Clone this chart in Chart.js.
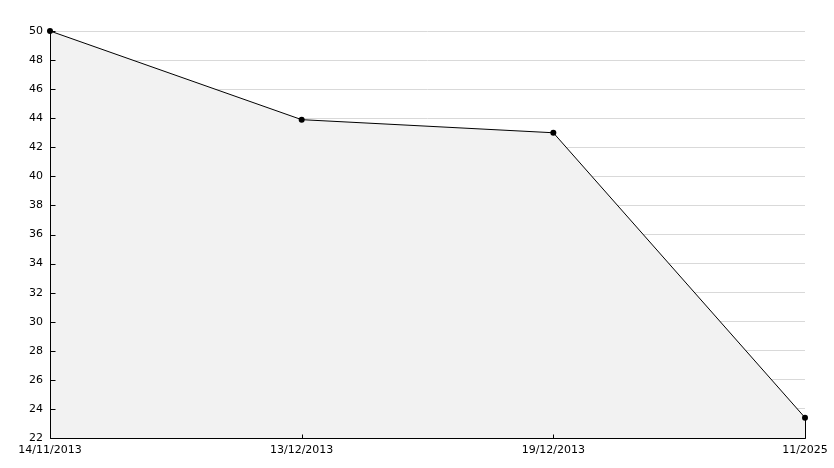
<!DOCTYPE html>
<html>
<head>
<meta charset="utf-8">
<script src="https://cdn.jsdelivr.net/npm/chart.js@4"></script>
<style>
  html, body { margin: 0; padding: 0; background: #fff; }
  #wrap { width: 834px; height: 468px; }
</style>
</head>
<body>
<div id="wrap"><canvas id="chart" width="834" height="468"></canvas></div>
<script>
// ===== data =====
const labels = ["14/11/2013", "13/12/2013", "19/12/2013", "11/2025"];
const values = [50, 43.9, 43, 23.4];
const yMin = 22;
const yMax = 50;

// ===== axis lines, inside tick marks, right edge of the fill =====
// drawn after the datasets so the opaque fill does not hide them
const tickMarks = {
  id: 'tickMarks',
  afterDatasetsDraw(chart) {
    const ctx = chart.ctx;
    const area = chart.chartArea;
    const x = chart.scales.x;
    const y = chart.scales.y;
    const left = Math.round(area.left) + 0.5;
    const bottom = Math.round(area.bottom) + 0.5;
    ctx.save();
    ctx.strokeStyle = '#000';
    ctx.lineWidth = 1;
    ctx.beginPath();
    // axis lines
    ctx.moveTo(left, Math.round(area.top));
    ctx.lineTo(left, bottom);
    ctx.lineTo(Math.round(area.right) + 0.5, bottom);
    y.ticks.forEach(t => {
      const py = Math.round(y.getPixelForValue(t.value)) + 0.5;
      const len = t.value % 2 === 0 ? 5 : 3;
      ctx.moveTo(left, py);
      ctx.lineTo(left + len, py);
    });
    labels.forEach((l, i) => {
      const px = Math.round(x.getPixelForValue(i)) + 0.5;
      ctx.moveTo(px, bottom);
      ctx.lineTo(px, bottom - 4);
    });
    // closing edge of the filled area
    const last = values.length - 1;
    const lx = Math.round(x.getPixelForValue(last)) + 0.5;
    ctx.moveTo(lx, y.getPixelForValue(values[last]));
    ctx.lineTo(lx, bottom);
    ctx.stroke();
    ctx.restore();
  }
};

const chart = document.getElementById('chart');

new Chart(chart, {
  type: 'line',
  data: {
    labels: labels,
    datasets: [{
      data: values,
      borderColor: '#000',
      borderWidth: 1,
      backgroundColor: '#f2f2f2',
      fill: 'start',
      tension: 0,
      pointRadius: 3,
      pointBackgroundColor: '#000',
      pointBorderColor: '#000',
      pointBorderWidth: 0,
      clip: false
    }]
  },
  options: {
    responsive: false,
    animation: false,
    layout: { padding: { top: 31, right: 29, left: 0, bottom: 0 } },
    plugins: {
      legend: { display: false },
      tooltip: { enabled: false }
    },
    scales: {
      x: {
        type: 'category',
        offset: false,
        grid: { display: false, drawTicks: false },
        border: { display: false },
        ticks: {
          color: '#000',
          font: { family: 'DejaVu Sans', size: 11 },
          padding: 6,
          maxRotation: 0,
          autoSkip: false
        },
        afterFit(scale) { scale.height = 30; }
      },
      y: {
        min: yMin,
        max: yMax,
        grid: {
          drawTicks: false,
          color: ctx => (ctx.tick && ctx.tick.value % 2 === 0) ? '#d9d9d9' : 'rgba(0,0,0,0)'
        },
        border: { display: false },
        ticks: {
          stepSize: 1,
          color: '#000',
          font: { family: 'DejaVu Sans', size: 11 },
          padding: 7,
          callback: v => v % 2 === 0 ? v : ''
        },
        afterFit(scale) { scale.width = 50; }
      }
    }
  },
  plugins: [tickMarks]
});
</script>
</body>
</html>
